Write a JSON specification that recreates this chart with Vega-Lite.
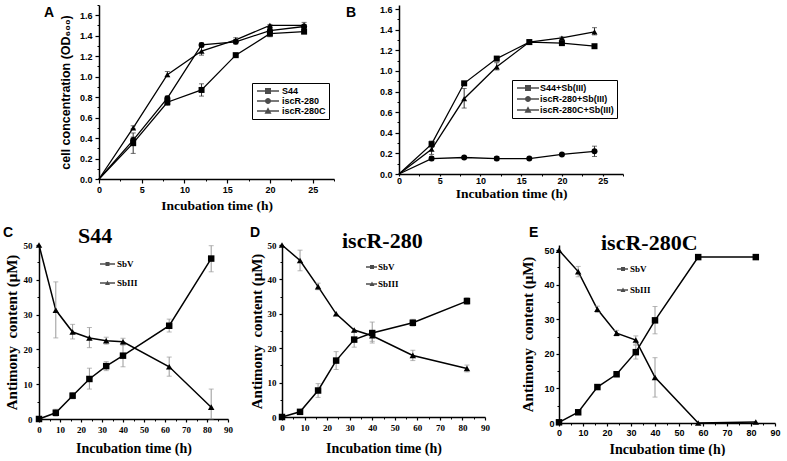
{
"$schema": "https://vega.github.io/schema/vega-lite/v6.json",
"padding": {"left": 3, "top": 4, "right": 0, "bottom": 0},
"config": {"view": {"stroke": null}, "axis": {"domainColor": "black", "tickColor": "black", "labelColor": "black", "titleColor": "black", "grid": false}, "legend": {"labelColor": "black"}, "title": {"color": "black"}},
"spacing": 13,
"vconcat": [
{
"hconcat": [
{"width": 96, "height": 10, "data": {"values": []}, "mark": {"type": "text", "text": ""},
 "title": {"text": "A", "anchor": "start", "frame": "group", "offset": 8, "dy": 34, "baseline": "alphabetic", "font": "Liberation Sans", "fontSize": 14, "fontWeight": "bold", "dx": 41}},
{
"width": 235, "height": 174,
"data": {"values": [
{"s": "S44", "t": 0, "v": 0},
{"s": "S44", "t": 4, "v": 0.35, "lo": 0.25, "hi": 0.45},
{"s": "S44", "t": 8, "v": 0.75, "lo": 0.72, "hi": 0.78},
{"s": "S44", "t": 12, "v": 0.87, "lo": 0.81, "hi": 0.93},
{"s": "S44", "t": 16, "v": 1.21, "lo": 1.2, "hi": 1.22},
{"s": "S44", "t": 20, "v": 1.42, "lo": 1.39, "hi": 1.45},
{"s": "S44", "t": 24, "v": 1.44, "lo": 1.42, "hi": 1.47},
{"s": "iscR-280", "t": 0, "v": 0},
{"s": "iscR-280", "t": 4, "v": 0.38, "lo": 0.36, "hi": 0.41},
{"s": "iscR-280", "t": 8, "v": 0.79, "lo": 0.77, "hi": 0.81},
{"s": "iscR-280", "t": 12, "v": 1.31, "lo": 1.3, "hi": 1.33},
{"s": "iscR-280", "t": 16, "v": 1.34, "lo": 1.32, "hi": 1.36},
{"s": "iscR-280", "t": 20, "v": 1.45, "lo": 1.43, "hi": 1.47},
{"s": "iscR-280", "t": 24, "v": 1.49, "lo": 1.47, "hi": 1.51},
{"s": "iscR-280C", "t": 0, "v": 0},
{"s": "iscR-280C", "t": 4, "v": 0.5, "lo": 0.49, "hi": 0.52},
{"s": "iscR-280C", "t": 8, "v": 1.02, "lo": 1.0, "hi": 1.05},
{"s": "iscR-280C", "t": 12, "v": 1.25, "lo": 1.21, "hi": 1.29},
{"s": "iscR-280C", "t": 16, "v": 1.36, "lo": 1.34, "hi": 1.38},
{"s": "iscR-280C", "t": 20, "v": 1.5, "lo": 1.49, "hi": 1.51},
{"s": "iscR-280C", "t": 24, "v": 1.5, "lo": 1.48, "hi": 1.53}
]},
"layer": [
{"mark": {"type": "line", "color": "black", "strokeWidth": 1.3},
 "encoding": {
  "x": {"field": "t", "type": "quantitative", "scale": {"domain": [0, 27.5], "nice": false}, "axis": {"values": [0, 5, 10, 15, 20, 25], "title": "Incubation time (h)", "titleFont": "Liberation Serif", "titleFontSize": 13.5, "titleFontWeight": "bold", "titlePadding": 4, "labelFont": "Liberation Sans", "labelFontWeight": "bold", "labelFontSize": 9, "labelPadding": 2, "tickSize": 4, "tickWidth": 1.2, "domainWidth": 1.5, "labelFlush": false, "labelOverlap": false, "orient": "bottom"}},
  "y": {"field": "v", "type": "quantitative", "scale": {"domain": [0, 1.7], "nice": false}, "axis": {"values": [0, 0.2, 0.4, 0.6, 0.8, 1, 1.2, 1.4, 1.6], "format": ".1f", "title": "cell concentration (OD₆₀₀)", "titleFont": "Liberation Sans", "titleFontSize": 12.5, "titleFontWeight": "bold", "titlePadding": 7, "labelFont": "Liberation Sans", "labelFontWeight": "bold", "labelFontSize": 9, "labelPadding": 3, "tickSize": 4, "tickWidth": 1.2, "domainWidth": 1.5, "labelOverlap": false, "orient": "left"}},
  "detail": {"field": "s", "type": "nominal"}}},
{"transform": [{"filter": {"field": "lo", "valid": true}}],
 "mark": {"type": "errorbar", "color": "#333", "thickness": 1, "ticks": {"size": 5}},
 "encoding": {"x": {"field": "t", "type": "quantitative", "axis": null}, "y": {"field": "lo", "type": "quantitative", "axis": null}, "y2": {"field": "hi"}}},
{"transform": [{"filter": "datum.t > 0"}],
 "mark": {"type": "point", "filled": true, "color": "black", "opacity": 1, "size": 36},
 "encoding": {"x": {"field": "t", "type": "quantitative", "axis": null}, "y": {"field": "v", "type": "quantitative", "axis": null},
  "shape": {"field": "s", "type": "nominal", "scale": {"domain": ["S44", "iscR-280", "iscR-280C"], "range": ["square", "circle", "triangle-up"]}, "legend": null}}},
{"transform": [{"filter": "false"}],
 "mark": {"type": "point", "filled": true, "color": "black", "fill": "black", "strokeWidth": 0},
 "encoding": {
  "x": {"field": "t", "type": "quantitative", "axis": {"values": [2.5, 7.5, 12.5, 17.5, 22.5, 27.5], "labels": false, "domain": false, "title": null, "tickSize": 2, "tickWidth": 1, "orient": "bottom"}},
  "y": {"field": "v", "type": "quantitative", "axis": {"values": [0.1, 0.3, 0.5, 0.7, 0.9, 1.1, 1.3, 1.5, 1.7], "labels": false, "domain": false, "title": null, "tickSize": 2, "tickWidth": 1, "orient": "left"}},
  "shape": {"field": "s", "type": "nominal", "scale": {"domain": ["S44", "iscR-280", "iscR-280C"], "range": ["M-0.6,-0.14H3.8V0.14H-0.6Z M1,-0.6H2.2V0.6H1Z", "M-0.6,-0.14H3.8V0.14H-0.6Z M1,0A0.6,0.6 0 1,1 2.2,0A0.6,0.6 0 1,1 1,0Z", "M-0.6,-0.14H3.8V0.14H-0.6Z M1.6,-0.75L2.3,0.55H0.9Z"]},
   "legend": {"title": null, "orient": "none", "legendX": 153, "legendY": 78, "strokeColor": "black", "padding": 3, "rowPadding": 0, "labelOffset": 17, "symbolSize": 100, "symbolStrokeWidth": 0, "symbolFillColor": "black", "labelFont": "Liberation Sans", "labelFontWeight": "bold", "labelFontSize": 9}}}}
],
"resolve": {"scale": {"shape": "independent"}, "axis": {"x": "independent", "y": "independent"}}
},
{"width": 65, "height": 10, "data": {"values": []}, "mark": {"type": "text", "text": ""},
 "title": {"text": "B", "anchor": "start", "frame": "group", "offset": 8, "dy": 34, "baseline": "alphabetic", "font": "Liberation Sans", "fontSize": 14, "fontWeight": "bold", "dx": 12}},
{
"width": 224, "height": 169,
"data": {"values": [
{"s": "S44+Sb(III)", "t": 0, "v": 0},
{"s": "S44+Sb(III)", "t": 4, "v": 0.29, "lo": 0.26, "hi": 0.32},
{"s": "S44+Sb(III)", "t": 8, "v": 0.88, "lo": 0.87, "hi": 0.89},
{"s": "S44+Sb(III)", "t": 12, "v": 1.12, "lo": 1.11, "hi": 1.14},
{"s": "S44+Sb(III)", "t": 16, "v": 1.28, "lo": 1.27, "hi": 1.3},
{"s": "S44+Sb(III)", "t": 20, "v": 1.27, "lo": 1.26, "hi": 1.28},
{"s": "S44+Sb(III)", "t": 24, "v": 1.24, "lo": 1.23, "hi": 1.25},
{"s": "iscR-280+Sb(III)", "t": 0, "v": 0},
{"s": "iscR-280+Sb(III)", "t": 4, "v": 0.15, "lo": 0.13, "hi": 0.17},
{"s": "iscR-280+Sb(III)", "t": 8, "v": 0.16, "lo": 0.15, "hi": 0.17},
{"s": "iscR-280+Sb(III)", "t": 12, "v": 0.15, "lo": 0.13, "hi": 0.17},
{"s": "iscR-280+Sb(III)", "t": 16, "v": 0.15, "lo": 0.14, "hi": 0.16},
{"s": "iscR-280+Sb(III)", "t": 20, "v": 0.19, "lo": 0.18, "hi": 0.2},
{"s": "iscR-280+Sb(III)", "t": 24, "v": 0.22, "lo": 0.17, "hi": 0.27},
{"s": "iscR-280C+Sb(III)", "t": 0, "v": 0},
{"s": "iscR-280C+Sb(III)", "t": 4, "v": 0.24, "lo": 0.19, "hi": 0.29},
{"s": "iscR-280C+Sb(III)", "t": 8, "v": 0.73, "lo": 0.64, "hi": 0.83},
{"s": "iscR-280C+Sb(III)", "t": 12, "v": 1.04, "lo": 1.01, "hi": 1.08},
{"s": "iscR-280C+Sb(III)", "t": 16, "v": 1.28, "lo": 1.26, "hi": 1.3},
{"s": "iscR-280C+Sb(III)", "t": 20, "v": 1.32, "lo": 1.31, "hi": 1.33},
{"s": "iscR-280C+Sb(III)", "t": 24, "v": 1.38, "lo": 1.35, "hi": 1.42}
]},
"layer": [
{"mark": {"type": "line", "color": "black", "strokeWidth": 1.3},
 "encoding": {
  "x": {"field": "t", "type": "quantitative", "scale": {"domain": [0, 27.5], "nice": false}, "axis": {"values": [0, 5, 10, 15, 20, 25], "title": "Incubation time (h)", "titleFont": "Liberation Serif", "titleFontSize": 13.5, "titleFontWeight": "bold", "titlePadding": 1, "labelFont": "Liberation Sans", "labelFontWeight": "bold", "labelFontSize": 9, "labelPadding": 0, "tickSize": 2, "tickWidth": 1.2, "domainWidth": 1.5, "labelFlush": false, "labelOverlap": false, "orient": "bottom"}},
  "y": {"field": "v", "type": "quantitative", "scale": {"domain": [0, 1.64], "nice": false}, "axis": {"values": [0, 0.2, 0.4, 0.6, 0.8, 1, 1.2, 1.4, 1.6], "format": ".1f", "title": null, "labelFont": "Liberation Sans", "labelFontWeight": "bold", "labelFontSize": 9, "labelPadding": 3, "tickSize": 4, "tickWidth": 1.2, "domainWidth": 1.5, "labelOverlap": false, "orient": "left"}},
  "detail": {"field": "s", "type": "nominal"}}},
{"transform": [{"filter": {"field": "lo", "valid": true}}],
 "mark": {"type": "errorbar", "color": "#333", "thickness": 1, "ticks": {"size": 5}},
 "encoding": {"x": {"field": "t", "type": "quantitative", "axis": null}, "y": {"field": "lo", "type": "quantitative", "axis": null}, "y2": {"field": "hi"}}},
{"transform": [{"filter": "datum.t > 0"}],
 "mark": {"type": "point", "filled": true, "color": "black", "opacity": 1, "size": 36},
 "encoding": {"x": {"field": "t", "type": "quantitative", "axis": null}, "y": {"field": "v", "type": "quantitative", "axis": null},
  "shape": {"field": "s", "type": "nominal", "scale": {"domain": ["S44+Sb(III)", "iscR-280+Sb(III)", "iscR-280C+Sb(III)"], "range": ["square", "circle", "triangle-up"]}, "legend": null}}},
{"transform": [{"filter": "false"}],
 "mark": {"type": "point", "filled": true, "color": "black", "fill": "black", "strokeWidth": 0},
 "encoding": {
  "x": {"field": "t", "type": "quantitative", "axis": {"values": [2.5, 7.5, 12.5, 17.5, 22.5, 27.5], "labels": false, "domain": false, "title": null, "tickSize": 2, "tickWidth": 1, "orient": "bottom"}},
  "y": {"field": "v", "type": "quantitative", "axis": {"values": [0.1, 0.3, 0.5, 0.7, 0.9, 1.1, 1.3, 1.5], "labels": false, "domain": false, "title": null, "tickSize": 2, "tickWidth": 1, "orient": "left"}},
  "shape": {"field": "s", "type": "nominal", "scale": {"domain": ["S44+Sb(III)", "iscR-280+Sb(III)", "iscR-280C+Sb(III)"], "range": ["M-0.6,-0.14H3.8V0.14H-0.6Z M1,-0.6H2.2V0.6H1Z", "M-0.6,-0.14H3.8V0.14H-0.6Z M1,0A0.6,0.6 0 1,1 2.2,0A0.6,0.6 0 1,1 1,0Z", "M-0.6,-0.14H3.8V0.14H-0.6Z M1.6,-0.75L2.3,0.55H0.9Z"]},
   "legend": {"title": null, "orient": "none", "legendX": 113, "legendY": 75, "strokeColor": "black", "padding": 3, "rowPadding": 1, "labelOffset": 15, "symbolSize": 100, "symbolStrokeWidth": 0, "symbolFillColor": "black", "labelFont": "Liberation Sans", "labelFontWeight": "bold", "labelFontSize": 9}}}}
],
"resolve": {"scale": {"shape": "independent"}, "axis": {"x": "independent", "y": "independent"}}
}
],
"spacing": 0,
"bounds": "flush"
},
{
"hconcat": [
{"width": 36, "height": 10, "data": {"values": []}, "mark": {"type": "text", "text": ""},
 "title": {"text": "C", "anchor": "start", "frame": "group", "offset": 8, "dy": 14, "baseline": "alphabetic", "font": "Liberation Sans", "fontSize": 14, "fontWeight": "bold", "dx": 0}},
{
"width": 189, "height": 174,
"title": {"text": "S44", "anchor": "start", "frame": "group", "offset": 0, "dy": 24, "baseline": "alphabetic", "font": "Liberation Serif", "fontSize": 22, "fontWeight": "bold", "dx": 39},
"data": {"values": [
{"s": "SbV", "t": 0, "v": 0},
{"s": "SbV", "t": 8, "v": 1.8, "lo": 0.8, "hi": 2.8},
{"s": "SbV", "t": 16, "v": 6.7, "lo": 5.8, "hi": 7.6},
{"s": "SbV", "t": 24, "v": 11.5, "lo": 8.6, "hi": 14.6},
{"s": "SbV", "t": 32, "v": 15.2, "lo": 13.9, "hi": 16.5},
{"s": "SbV", "t": 40, "v": 18.2, "lo": 15.0, "hi": 21.4},
{"s": "SbV", "t": 62, "v": 26.8, "lo": 25.0, "hi": 28.7},
{"s": "SbV", "t": 82, "v": 46.1, "lo": 42.3, "hi": 49.8},
{"s": "SbIII", "t": 0, "v": 50},
{"s": "SbIII", "t": 8, "v": 31.3, "lo": 23.3, "hi": 39.4},
{"s": "SbIII", "t": 16, "v": 25.0, "lo": 23.0, "hi": 27.2},
{"s": "SbIII", "t": 24, "v": 23.3, "lo": 20.5, "hi": 26.3},
{"s": "SbIII", "t": 32, "v": 22.5, "lo": 21.5, "hi": 23.5},
{"s": "SbIII", "t": 40, "v": 22.2, "lo": 21.2, "hi": 23.2},
{"s": "SbIII", "t": 62, "v": 15.0, "lo": 12.3, "hi": 17.8},
{"s": "SbIII", "t": 82, "v": 3.4, "lo": 0, "hi": 8.6}
]},
"layer": [
{"mark": {"type": "line", "color": "black", "strokeWidth": 1.5},
 "encoding": {
  "x": {"field": "t", "type": "quantitative", "scale": {"domain": [0, 90], "nice": false}, "axis": {"values": [0, 10, 20, 30, 40, 50, 60, 70, 80, 90], "title": "Incubation time (h)", "titleFont": "Liberation Serif", "titleFontSize": 14, "titleFontWeight": "bold", "titlePadding": 7, "labelFont": "Liberation Serif", "labelFontWeight": "bold", "labelFontSize": 9, "labelPadding": 3, "tickSize": 3, "tickWidth": 1.2, "domainWidth": 1.5, "labelFlush": false, "labelOverlap": false, "orient": "bottom"}},
  "y": {"field": "v", "type": "quantitative", "scale": {"domain": [0, 50], "nice": false}, "axis": {"values": [0, 10, 20, 30, 40, 50], "title": "Antimony\u00a0 content (μM)", "titleFont": "Liberation Serif", "titleFontSize": 15, "titleFontWeight": "bold", "titlePadding": 4, "labelFont": "Liberation Serif", "labelFontWeight": "bold", "labelFontSize": 9, "labelPadding": 4, "tickSize": 3, "tickWidth": 1.2, "domainWidth": 1.5, "labelOverlap": false, "orient": "left"}},
  "detail": {"field": "s", "type": "nominal"}}},
{"transform": [{"filter": {"field": "lo", "valid": true}}],
 "mark": {"type": "errorbar", "color": "#999", "thickness": 1, "ticks": {"size": 5}},
 "encoding": {"x": {"field": "t", "type": "quantitative", "axis": null}, "y": {"field": "lo", "type": "quantitative", "axis": null}, "y2": {"field": "hi"}}},
{"mark": {"type": "point", "filled": true, "color": "black", "opacity": 1, "size": 42},
 "encoding": {"x": {"field": "t", "type": "quantitative", "axis": null}, "y": {"field": "v", "type": "quantitative", "axis": null},
  "shape": {"field": "s", "type": "nominal", "scale": {"domain": ["SbV", "SbIII"], "range": ["square", "triangle-up"]}, "legend": null}}},
{"transform": [{"filter": "false"}],
 "mark": {"type": "point", "filled": true, "color": "black", "fill": "black", "strokeWidth": 0},
 "encoding": {
  "x": {"field": "t", "type": "quantitative", "axis": {"values": [5, 15, 25, 35, 45, 55, 65, 75, 85], "labels": false, "domain": false, "title": null, "tickSize": 2, "tickWidth": 1, "orient": "bottom"}},
  "y": {"field": "v", "type": "quantitative", "axis": {"values": [5, 15, 25, 35, 45], "labels": false, "domain": false, "title": null, "tickSize": 2, "tickWidth": 1, "orient": "left"}},
  "shape": {"field": "s", "type": "nominal", "scale": {"domain": ["SbV", "SbIII"], "range": ["M-1,-0.13H2V0.13H-1Z M0.1,-0.4H0.9V0.4H0.1Z", "M-1,-0.13H2V0.13H-1Z M0.5,-0.5L1,0.4H0Z"]},
   "legend": {"title": null, "orient": "none", "legendX": 61, "legendY": 14, "padding": 0, "rowPadding": 9, "labelOffset": 7, "symbolSize": 100, "symbolStrokeWidth": 0, "symbolFillColor": "black", "labelFont": "Liberation Serif", "labelFontWeight": "bold", "labelFontSize": 9}}}}
],
"resolve": {"scale": {"shape": "independent"}, "axis": {"x": "independent", "y": "independent"}}
},
{"width": 54, "height": 10, "data": {"values": []}, "mark": {"type": "text", "text": ""},
 "title": {"text": "D", "anchor": "start", "frame": "group", "offset": 8, "dy": 14, "baseline": "alphabetic", "font": "Liberation Sans", "fontSize": 14, "fontWeight": "bold", "dx": 22}},
{
"width": 203, "height": 172,
"title": {"text": "iscR-280", "anchor": "start", "frame": "group", "offset": 0, "dy": 29, "baseline": "alphabetic", "font": "Liberation Serif", "fontSize": 22, "fontWeight": "bold", "dx": 60},
"data": {"values": [
{"s": "SbV", "t": 0, "v": 0},
{"s": "SbV", "t": 8, "v": 1.5},
{"s": "SbV", "t": 16, "v": 7.7, "lo": 5.7, "hi": 9.7},
{"s": "SbV", "t": 24, "v": 16.4, "lo": 13.8, "hi": 19.0},
{"s": "SbV", "t": 32, "v": 22.5, "lo": 20.3, "hi": 24.7},
{"s": "SbV", "t": 40, "v": 24.4, "lo": 21.5, "hi": 27.6},
{"s": "SbV", "t": 58, "v": 27.4, "lo": 26.4, "hi": 28.4},
{"s": "SbV", "t": 82, "v": 33.7, "lo": 32.7, "hi": 34.7},
{"s": "SbIII", "t": 0, "v": 50},
{"s": "SbIII", "t": 8, "v": 45.5, "lo": 42.5, "hi": 48.5},
{"s": "SbIII", "t": 16, "v": 37.9, "lo": 37.0, "hi": 38.9},
{"s": "SbIII", "t": 24, "v": 30.0},
{"s": "SbIII", "t": 32, "v": 25.3},
{"s": "SbIII", "t": 40, "v": 23.6, "lo": 22.0, "hi": 25.2},
{"s": "SbIII", "t": 58, "v": 17.9, "lo": 16.4, "hi": 19.4},
{"s": "SbIII", "t": 82, "v": 14.1, "lo": 13.1, "hi": 15.1}
]},
"layer": [
{"mark": {"type": "line", "color": "black", "strokeWidth": 1.5},
 "encoding": {
  "x": {"field": "t", "type": "quantitative", "scale": {"domain": [0, 90], "nice": false}, "axis": {"values": [0, 10, 20, 30, 40, 50, 60, 70, 80, 90], "title": "Incubation time (h)", "titleFont": "Liberation Serif", "titleFontSize": 14, "titleFontWeight": "bold", "titlePadding": 9, "labelFont": "Liberation Serif", "labelFontWeight": "bold", "labelFontSize": 9, "labelPadding": 3, "tickSize": 3, "tickWidth": 1.2, "domainWidth": 1.5, "labelFlush": false, "labelOverlap": false, "orient": "bottom"}},
  "y": {"field": "v", "type": "quantitative", "scale": {"domain": [0, 50], "nice": false}, "axis": {"values": [0, 10, 20, 30, 40, 50], "title": "Antimony\u00a0 content (μM)", "titleFont": "Liberation Serif", "titleFontSize": 15, "titleFontWeight": "bold", "titlePadding": 3, "labelFont": "Liberation Serif", "labelFontWeight": "bold", "labelFontSize": 9, "labelPadding": 3, "tickSize": 3, "tickWidth": 1.2, "domainWidth": 1.5, "labelOverlap": false, "orient": "left"}},
  "detail": {"field": "s", "type": "nominal"}}},
{"transform": [{"filter": {"field": "lo", "valid": true}}],
 "mark": {"type": "errorbar", "color": "#999", "thickness": 1, "ticks": {"size": 5}},
 "encoding": {"x": {"field": "t", "type": "quantitative", "axis": null}, "y": {"field": "lo", "type": "quantitative", "axis": null}, "y2": {"field": "hi"}}},
{"mark": {"type": "point", "filled": true, "color": "black", "opacity": 1, "size": 42},
 "encoding": {"x": {"field": "t", "type": "quantitative", "axis": null}, "y": {"field": "v", "type": "quantitative", "axis": null},
  "shape": {"field": "s", "type": "nominal", "scale": {"domain": ["SbV", "SbIII"], "range": ["square", "triangle-up"]}, "legend": null}}},
{"transform": [{"filter": "false"}],
 "mark": {"type": "point", "filled": true, "color": "black", "fill": "black", "strokeWidth": 0},
 "encoding": {
  "x": {"field": "t", "type": "quantitative", "axis": {"values": [5, 15, 25, 35, 45, 55, 65, 75, 85], "labels": false, "domain": false, "title": null, "tickSize": 2, "tickWidth": 1, "orient": "bottom"}},
  "y": {"field": "v", "type": "quantitative", "axis": {"values": [5, 15, 25, 35, 45], "labels": false, "domain": false, "title": null, "tickSize": 2, "tickWidth": 1, "orient": "left"}},
  "shape": {"field": "s", "type": "nominal", "scale": {"domain": ["SbV", "SbIII"], "range": ["M-1,-0.13H1.2V0.13H-1Z M-0.2,-0.4H0.6V0.4H-0.2Z", "M-1,-0.13H1.2V0.13H-1Z M0.2,-0.5L0.7,0.4H-0.3Z"]},
   "legend": {"title": null, "orient": "none", "legendX": 84, "legendY": 17, "padding": 0, "rowPadding": 7, "labelOffset": 2, "symbolSize": 100, "symbolStrokeWidth": 0, "symbolFillColor": "black", "labelFont": "Liberation Serif", "labelFontWeight": "bold", "labelFontSize": 9}}}}
],
"resolve": {"scale": {"shape": "independent"}, "axis": {"x": "independent", "y": "independent"}}
},
{"width": 74, "height": 10, "data": {"values": []}, "mark": {"type": "text", "text": ""},
 "title": {"text": "E", "anchor": "start", "frame": "group", "offset": 8, "dy": 14, "baseline": "alphabetic", "font": "Liberation Sans", "fontSize": 14, "fontWeight": "bold", "dx": 44}},
{
"width": 216, "height": 178,
"title": {"text": "iscR-280C", "anchor": "start", "frame": "group", "offset": 0, "dy": 27, "baseline": "alphabetic", "font": "Liberation Serif", "fontSize": 22, "fontWeight": "bold", "dx": 42},
"data": {"values": [
{"s": "SbV", "t": 0, "v": 0.2},
{"s": "SbV", "t": 8, "v": 3.1},
{"s": "SbV", "t": 16, "v": 10.4},
{"s": "SbV", "t": 24, "v": 14.1},
{"s": "SbV", "t": 32, "v": 20.5, "lo": 18.5, "hi": 22.5},
{"s": "SbV", "t": 40, "v": 29.7, "lo": 25.8, "hi": 33.7},
{"s": "SbV", "t": 58, "v": 48},
{"s": "SbV", "t": 82, "v": 48},
{"s": "SbIII", "t": 0, "v": 50},
{"s": "SbIII", "t": 8, "v": 43.8, "lo": 42.3, "hi": 45.3},
{"s": "SbIII", "t": 16, "v": 32.9, "lo": 32.0, "hi": 33.8},
{"s": "SbIII", "t": 24, "v": 26.0, "lo": 25.2, "hi": 26.8},
{"s": "SbIII", "t": 32, "v": 24.0, "lo": 22.8, "hi": 25.2},
{"s": "SbIII", "t": 40, "v": 13.2, "lo": 7.5, "hi": 18.9},
{"s": "SbIII", "t": 58, "v": 0},
{"s": "SbIII", "t": 82, "v": 0.3}
]},
"layer": [
{"mark": {"type": "line", "color": "black", "strokeWidth": 1.5},
 "encoding": {
  "x": {"field": "t", "type": "quantitative", "scale": {"domain": [0, 90], "nice": false}, "axis": {"values": [0, 10, 20, 30, 40, 50, 60, 70, 80, 90], "title": "Incubation time (h)", "titleFont": "Liberation Serif", "titleFontSize": 14, "titleFontWeight": "bold", "titlePadding": 5, "labelFont": "Liberation Sans", "labelFontWeight": "bold", "labelFontSize": 9, "labelPadding": 2, "tickSize": 3, "tickWidth": 1.2, "domainWidth": 1.5, "labelFlush": false, "labelOverlap": false, "orient": "bottom"}},
  "y": {"field": "v", "type": "quantitative", "scale": {"domain": [0, 51.5], "nice": false}, "axis": {"values": [0, 10, 20, 30, 40, 50], "title": "Antimony\u00a0 content (μM)", "titleFont": "Liberation Serif", "titleFontSize": 15, "titleFontWeight": "bold", "titlePadding": 8, "labelFont": "Liberation Sans", "labelFontWeight": "bold", "labelFontSize": 9, "labelPadding": 2, "tickSize": 3, "tickWidth": 1.2, "domainWidth": 1.5, "labelOverlap": false, "orient": "left"}},
  "detail": {"field": "s", "type": "nominal"}}},
{"transform": [{"filter": {"field": "lo", "valid": true}}],
 "mark": {"type": "errorbar", "color": "#999", "thickness": 1, "ticks": {"size": 5}},
 "encoding": {"x": {"field": "t", "type": "quantitative", "axis": null}, "y": {"field": "lo", "type": "quantitative", "axis": null}, "y2": {"field": "hi"}}},
{"mark": {"type": "point", "filled": true, "color": "black", "opacity": 1, "size": 42},
 "encoding": {"x": {"field": "t", "type": "quantitative", "axis": null}, "y": {"field": "v", "type": "quantitative", "axis": null},
  "shape": {"field": "s", "type": "nominal", "scale": {"domain": ["SbV", "SbIII"], "range": ["square", "triangle-up"]}, "legend": null}}},
{"transform": [{"filter": "false"}],
 "mark": {"type": "point", "filled": true, "color": "black", "fill": "black", "strokeWidth": 0},
 "encoding": {
  "x": {"field": "t", "type": "quantitative", "axis": {"values": [5, 15, 25, 35, 45, 55, 65, 75, 85], "labels": false, "domain": false, "title": null, "tickSize": 2, "tickWidth": 1, "orient": "bottom"}},
  "y": {"field": "v", "type": "quantitative", "axis": {"values": [5, 15, 25, 35, 45], "labels": false, "domain": false, "title": null, "tickSize": 2, "tickWidth": 1, "orient": "left"}},
  "shape": {"field": "s", "type": "nominal", "scale": {"domain": ["SbV", "SbIII"], "range": ["M-1,-0.13H1.2V0.13H-1Z M-0.2,-0.4H0.6V0.4H-0.2Z", "M-1,-0.13H1.2V0.13H-1Z M0.2,-0.5L0.7,0.4H-0.3Z"]},
   "legend": {"title": null, "orient": "none", "legendX": 58, "legendY": 19, "padding": 0, "rowPadding": 11, "labelOffset": 3, "symbolSize": 100, "symbolStrokeWidth": 0, "symbolFillColor": "black", "labelFont": "Liberation Serif", "labelFontWeight": "bold", "labelFontSize": 9}}}}
],
"resolve": {"scale": {"shape": "independent"}, "axis": {"x": "independent", "y": "independent"}}
}
],
"spacing": 0,
"bounds": "flush"
}
]
}
